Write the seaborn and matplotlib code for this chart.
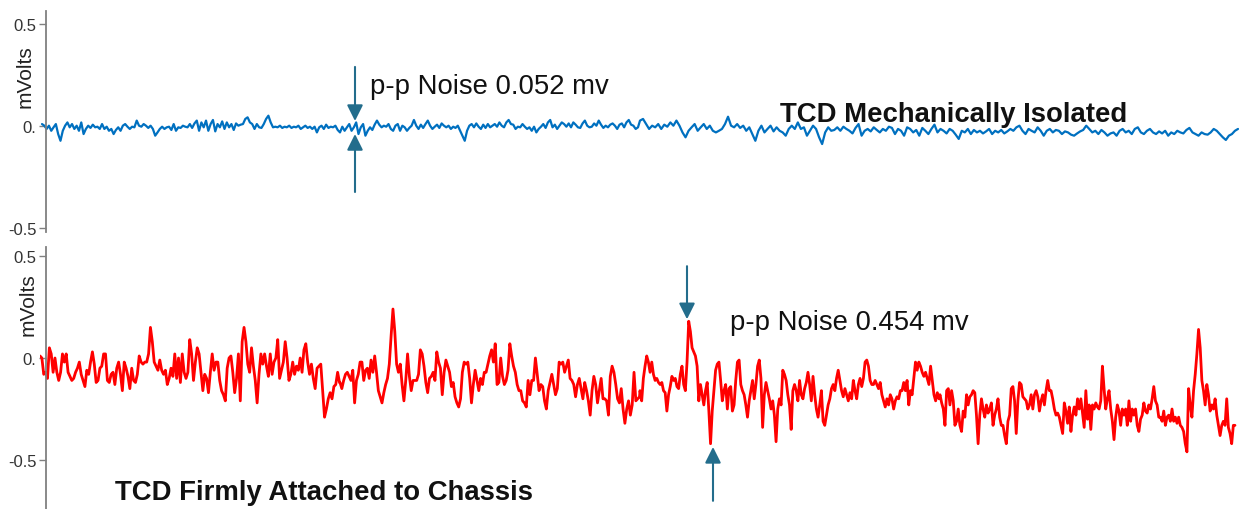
import numpy as np
import pandas as pd
import matplotlib
matplotlib.use("Agg")
import matplotlib.pyplot as plt
import seaborn as sns

sns.set_theme(style="white")
plt.rcParams["font.family"] = ["Liberation Sans", "DejaVu Sans"]

# Top trace (mechanically isolated), values in microvolts, two stretches
blue_a_uv = [8, 0, -16, 0, -25, -8, 8, -41, -74, -25, 0, 16, -8, 8, -16, 0, -25, 16, -41, -16,
             0, -11, 5, -8, -5, -16, 8, -16, -5, -25, -16, -41, -21, -8, -25, 0, 8, -5, -16, -5,
             -8, 25, 0, -5, 8, 0, -11, 0, -16, -49, -33, -16, -5, -16, -8, -5, -21, 8, -25, -8,
             -11, 0, -5, -8, 8, -11, 11, 25, -25, 16, -8, 25, -25, 8, 28, -28, 8, -8, 21, -16,
             16, -8, 8, -21, 11, 0, 5, 8, 33, 41, 16, 8, -16, 8, -8, -11, 8, 33, 49, 16,
             -8, -5, -8, 0, -11, -5, -8, 0, -11, -5, -8, 0, -16, -8, 0, -11, -5, -16, -5, -33,
             -8, 0, -16, 5, -11, -5, -8, 0, -21, -33, -5, -25, -8, 8, -25, -8, 16, -41, -8, 8,
             -49, -25, -8, -21, 5, 25, 5, -8, 0, -5, 8, -16, -25, 0, 8, -25, 0, -8, -25, -11,
             0, 28, 0, -16, 5, -11, 8, 25, 0, -16, -5, 5, -11, 11, 0, -8, 0, -16, -5, -11,
             0, -25, -49, -74, -25, 0, 8, -8, 11, -5, -16, 5, -11, 8, -8, 0, 8, -5, 16, 0,
             -8, 16, 28, 8, 5, -16, -5, -8, 8, -5, -16, -8, -25, -5, -33, -16, -5, 8, -11, 16,
             28, -8, 5, -16, 0, 16, 8, -5, 11, -8, 16, 5, -8, -11, 11, 25, 0, -8, -5, 11,
             0, 25, 5, -11, 0, -8, 5, 11, 0, -16, 5, 11, -8, 16, 28, 5, 0, -16, -8]
blue_b_uv = [25, 33, 8, -16, 0, -8, 8, -16, 5, -5, 16, 0, 25, 0, -33, -57, -25, -8, 8, -25,
             -8, 8, -16, 0, -25, -33, -25, -16, 8, 44, 0, -8, 8, -11, 0, -25, -8, -41, -74, -25,
             0, -33, -16, 0, -28, -8, -25, -33, -49, -16, 0, -16, 16, -16, -8, -49, -25, 0, -16, -57,
             -90, -33, -8, -25, -21, -8, -25, -5, -16, -25, -38, -11, 8, -49, -25, -16, -28, -8, -21, -33,
             -16, -25, -5, -11, -41, -16, -25, -49, -8, -16, -33, -21, -49, -11, -25, -41, -16, 5, -33, -16,
             -25, -38, -16, -25, -44, -65, -25, -33, -16, -41, -21, -33, -25, -38, -28, -16, -41, -25, -33, -21,
             -38, -28, -16, -25, -8, 0, -25, -41, -16, -25, -33, -8, -25, -49, -25, -16, -33, -21, -25, -41,
             -28, -33, -44, -49, -38, -28, -21, 0, -16, -33, -25, -41, -21, -33, -49, -38, -33, -49, -25, -16,
             -33, -25, -41, -16, -8, -33, -41, -25, -16, -33, -41, -28, -38, -25, -49, -33, -41, -25, -33, -38,
             -21, -11, -33, -41, -49, -33, -41, -44, -33, -16, -25, -41, -57, -70, -49, -41, -25, -16]

# Bottom trace (firmly attached), values in mV, four stretches
red_a = [0.01, 0.00, -0.08, -0.07, -0.10, 0.05, 0.02, -0.07, 0.00, -0.07, -0.11, -0.07, 0.02, -0.02,
         0.02, -0.07, -0.09, -0.11, -0.10, -0.07, -0.05, -0.02, -0.08, -0.11, -0.14, -0.06, -0.08, -0.02,
         0.03, -0.03, -0.12, -0.11, -0.05, -0.04, 0.02, 0.02, -0.11, -0.12, -0.08, -0.07, -0.13, -0.05,
         -0.02, -0.08, -0.16, -0.02, -0.05, -0.09, -0.15, -0.05, -0.11, -0.12, -0.08, 0.01, -0.02, -0.03,
         -0.02, -0.02, 0.02, 0.15, 0.08, -0.02, -0.04, -0.06, -0.01, -0.06, -0.08, -0.06, -0.13, -0.10,
         -0.05, -0.09, 0.02, -0.10, 0.00, -0.12, 0.02, -0.07, -0.10, -0.07, 0.09, 0.02, -0.11, -0.02,
         0.05, 0.02, -0.07, -0.16, -0.08, -0.10, -0.17, -0.07, 0.02, -0.06, -0.02, -0.02, -0.11, -0.16,
         -0.18, -0.21, -0.05, 0.00, 0.01, -0.07, -0.17, -0.10, 0.02, -0.21, 0.08, 0.15, 0.08, -0.03,
         -0.07, 0.05, -0.04, -0.11, -0.22, -0.08, 0.02, -0.03, 0.02, -0.04, -0.09, 0.02, -0.08, -0.02,
         0.00, 0.09, -0.10, -0.06, -0.02, 0.08, 0.00, -0.11, -0.08, -0.02, -0.08, -0.04, -0.06, 0.00,
         -0.07, 0.04, 0.07, -0.02, -0.08, -0.03, -0.10, -0.15, -0.05, -0.04, -0.03, -0.16, -0.29, -0.25,
         -0.20, -0.17, -0.20, -0.14, -0.13, -0.07, -0.12]
red_b = [-0.12, -0.15, -0.11, -0.08, -0.07, -0.09, -0.11, -0.06, -0.22, -0.11, -0.08, -0.02, -0.02, -0.11,
         -0.06, -0.05, -0.10, -0.01, -0.07, 0.01, -0.07, -0.16, -0.19, -0.22, -0.17, -0.13, -0.10, -0.03,
         0.11, 0.24, 0.13, -0.03, -0.07, -0.03, -0.13, -0.21, -0.11, 0.02, -0.09, -0.16, -0.11, -0.11,
         -0.11, -0.08, 0.04, 0.02, -0.04, -0.12, -0.17, -0.10, -0.09, -0.07, -0.11, 0.03, -0.02, -0.05,
         -0.18, -0.07, -0.01, -0.04, -0.07, -0.14, -0.12, -0.19, -0.22, -0.24, -0.20, -0.07, -0.02, -0.03,
         -0.02, -0.10, -0.22, -0.13, -0.06, -0.11, -0.16, -0.10, -0.13, -0.07, -0.07, -0.03, 0.01, 0.04,
         -0.02, 0.07, -0.13, -0.12, 0.00, -0.09, -0.13, -0.11, -0.06, 0.07, 0.01, -0.04, -0.07, -0.13,
         -0.16, -0.16, -0.21, -0.22, -0.24, -0.11, -0.18, -0.11, -0.11, 0.00, -0.08, -0.16, -0.13, -0.14,
         -0.21, -0.25, -0.16, -0.12, -0.08, -0.13, -0.18, -0.15, -0.02, -0.03, -0.02, -0.07, -0.04, -0.01,
         -0.10, -0.11, -0.13, -0.19, -0.13, -0.10, -0.15, -0.20, -0.12, -0.16, -0.21, -0.28, -0.16, -0.09,
         -0.13, -0.22, -0.16, -0.10, -0.20, -0.20, -0.21, -0.28, -0.09, -0.04, -0.07, -0.13, -0.20, -0.22,
         -0.15, -0.25, -0.32, -0.25, -0.21, -0.28, -0.23, -0.07, -0.21, -0.20, -0.19]
red_c = [-0.16, -0.21, -0.10, -0.04, 0.01, -0.02, -0.07, -0.02, -0.08, -0.11, -0.10, -0.12, -0.13, -0.12,
         -0.16, -0.17, -0.26, -0.18, -0.14, -0.09, -0.11, -0.10, -0.14, -0.15, -0.08, -0.04, -0.13, -0.16,
         -0.02, 0.18, 0.13, 0.05, 0.03, 0.01, -0.04, -0.21, -0.13, -0.18, -0.23, -0.16, -0.12, -0.26,
         -0.42, -0.26, -0.16, -0.06, -0.03, -0.02, -0.11, -0.21, -0.16, -0.13, -0.25, -0.15, -0.14, -0.26,
         -0.23, -0.11, -0.02, -0.01, -0.13, -0.16, -0.18, -0.23, -0.29, -0.21, -0.16, -0.11, -0.20, -0.13,
         -0.04, -0.01, -0.10, -0.34, -0.18, -0.12, -0.16, -0.20, -0.25, -0.21, -0.28, -0.41, -0.25, -0.20,
         -0.23, -0.06, -0.08, -0.11, -0.18, -0.23, -0.35, -0.16, -0.13, -0.16, -0.21, -0.11, -0.18, -0.20,
         -0.15, -0.12, -0.07, -0.13, -0.21, -0.09, -0.18, -0.25, -0.29, -0.23, -0.16, -0.31, -0.33, -0.28,
         -0.23, -0.20, -0.15, -0.13, -0.16, -0.10, -0.06, -0.11, -0.16, -0.19, -0.15, -0.18, -0.21, -0.17,
         -0.20, -0.11, -0.16, -0.20, -0.13, -0.10, -0.14, -0.10, -0.02, -0.01, -0.04, -0.11, -0.13, -0.13,
         -0.11, -0.13, -0.15, -0.12, -0.18, -0.21, -0.24, -0.20, -0.23, -0.18, -0.20, -0.25, -0.21, -0.19,
         -0.20, -0.16, -0.16, -0.12, -0.16, -0.11, -0.23, -0.16, -0.18, -0.10, -0.02, -0.06, -0.02, -0.04,
         -0.07, -0.09, -0.07, -0.10, -0.13, -0.04, -0.11, -0.18, -0.21, -0.17, -0.20]
red_d = [-0.18, -0.22, -0.25, -0.33, -0.16, -0.15, -0.23, -0.16, -0.21, -0.33, -0.31, -0.25, -0.33, -0.36,
         -0.26, -0.29, -0.18, -0.23, -0.19, -0.18, -0.16, -0.17, -0.28, -0.42, -0.28, -0.20, -0.25, -0.29,
         -0.23, -0.27, -0.25, -0.22, -0.33, -0.28, -0.25, -0.20, -0.29, -0.33, -0.33, -0.38, -0.42, -0.31,
         -0.28, -0.15, -0.14, -0.21, -0.37, -0.21, -0.12, -0.13, -0.19, -0.20, -0.21, -0.25, -0.23, -0.18,
         -0.25, -0.18, -0.16, -0.19, -0.26, -0.21, -0.18, -0.23, -0.16, -0.11, -0.16, -0.16, -0.20, -0.25,
         -0.28, -0.27, -0.29, -0.33, -0.37, -0.22, -0.26, -0.32, -0.24, -0.36, -0.28, -0.24, -0.28, -0.20,
         -0.25, -0.20, -0.27, -0.34, -0.16, -0.30, -0.23, -0.35, -0.23, -0.25, -0.22, -0.24, -0.25, -0.21,
         -0.04, -0.15, -0.25, -0.20, -0.16, -0.25, -0.31, -0.40, -0.29, -0.23, -0.26, -0.33, -0.25, -0.28,
         -0.25, -0.33, -0.21, -0.31, -0.25, -0.28, -0.25, -0.33, -0.36, -0.30, -0.28, -0.22, -0.26, -0.27,
         -0.23, -0.25, -0.20, -0.14, -0.21, -0.23, -0.29, -0.29, -0.31, -0.26, -0.33, -0.29, -0.28, -0.31,
         -0.25, -0.31, -0.29, -0.32, -0.29, -0.33, -0.34, -0.36, -0.42, -0.46, -0.15, -0.23, -0.29, -0.16,
         -0.08, 0.02, 0.14, 0.05, -0.11, -0.16, -0.23, -0.13, -0.18, -0.26, -0.23, -0.25, -0.20, -0.28,
         -0.33, -0.38, -0.33, -0.31, -0.33, -0.20, -0.34, -0.37, -0.42, -0.33, -0.33]

# time span of each stretch (ms)
blue_spans = [(2, 598), (600, 1198)]
red_spans = [(0, 299.5), (300, 599.5), (600, 899), (900, 1195)]

TICKS = [0.5, 0, -0.5]
TICK_LABELS = ["0.5", "0.", "-0.5"]
ARROW = "#236d8c"


def build(segments, spans, scale=1.0):
    parts = []
    for vals, (t0, t1) in zip(segments, spans):
        parts.append(pd.DataFrame({"t": np.linspace(t0, t1, len(vals)),
                                   "mv": np.array(vals) * scale}))
    return pd.concat(parts, ignore_index=True)


blue_df = build([blue_a_uv, blue_b_uv], blue_spans, 0.001)
red_df = build([red_a, red_b, red_c, red_d], red_spans)

fig = plt.figure(figsize=(12.39, 5.10), dpi=100)
ax_top = fig.add_axes([40 / 1239, 277 / 510, 1199 / 1239, 221 / 510])
ax_bot = fig.add_axes([40 / 1239, 0, 1199 / 1239, 262 / 510])

sns.lineplot(data=blue_df, x="t", y="mv", ax=ax_top, color="#0070c0", lw=1.6,
             sort=False, estimator=None)
sns.lineplot(data=red_df, x="t", y="mv", ax=ax_bot, color="#ff0000", lw=2.0,
             sort=False, estimator=None)

for ax, ylim in [(ax_top, (-0.521, 0.562)), (ax_bot, (-0.74, 0.544))]:
    ax.set_xlim(0, 1199)
    ax.set_ylim(*ylim)
    ax.patch.set_alpha(0)
    for s in ["top", "right", "bottom"]:
        ax.spines[s].set_visible(False)
    ax.spines["left"].set_position(("data", 6))
    ax.spines["left"].set_color("#808080")
    ax.spines["left"].set_linewidth(1.3)
    ax.set_xticks([])
    ax.set_yticks(TICKS, labels=TICK_LABELS)
    ax.tick_params(axis="y", length=5, width=1, color="#808080", labelsize=12,
                   labelcolor="#333333", pad=2, left=True)
    ax.set_xlabel("")
    ax.set_ylabel("")

fig.text(25 / 1239, 1 - 77 / 510, "mVolts", rotation=90, ha="center", va="center",
         fontsize=15, color="#222222")
fig.text(28 / 1239, 1 - 305 / 510, "mVolts", rotation=90, ha="center", va="center",
         fontsize=15, color="#222222")

arrow_kw = dict(arrowstyle="-|>,head_length=0.8,head_width=0.4", color=ARROW, lw=1.5,
                shrinkA=0, shrinkB=0)

# top annotation
ax_top.annotate("", xy=(315, 0.023), xytext=(315, 0.288), arrowprops=arrow_kw)
ax_top.annotate("", xy=(315, -0.041), xytext=(315, -0.325), arrowprops=arrow_kw)
ax_top.text(330, 0.158, "p-p Noise 0.052 mv", fontsize=19.8, color="#111111", va="baseline")
ax_top.text(740, 0.023, "TCD Mechanically Isolated", fontsize=19.8, fontweight="bold",
            color="#111111", va="baseline")

# bottom annotation
ax_bot.annotate("", xy=(647, 0.19), xytext=(647, 0.45), arrowprops=arrow_kw)
ax_bot.annotate("", xy=(673, -0.436), xytext=(673, -0.70), arrowprops=arrow_kw)
ax_bot.text(690, 0.142, "p-p Noise 0.454 mv", fontsize=19.8, color="#111111", va="baseline")
ax_bot.text(75, -0.69, "TCD Firmly Attached to Chassis", fontsize=19.8, fontweight="bold",
            color="#111111", va="baseline")

fig.savefig("out.png", dpi=100)
plt.close(fig)
